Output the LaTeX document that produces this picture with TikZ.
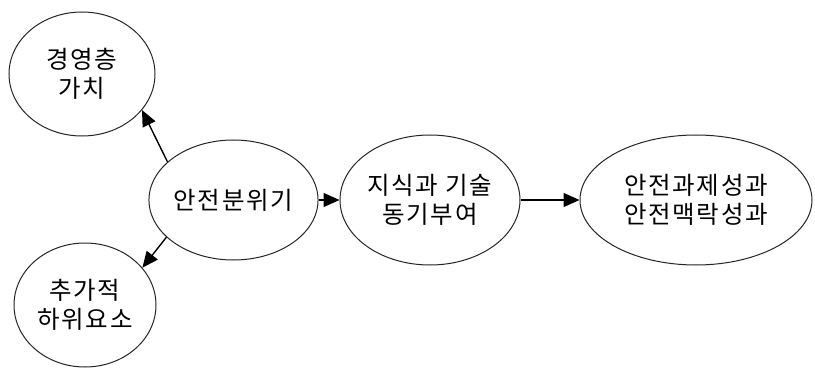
\documentclass[tikz,border=0pt]{standalone}
\usepackage{fontspec}
\newfontfamily\kr[LetterSpace=7]{Noto Sans CJK KR}
\usetikzlibrary{shapes.geometric,arrows.meta}
\begin{document}
\begin{tikzpicture}[x=1pt,y=-1pt,
  oval/.style={ellipse,draw=black!85,line width=1pt,inner sep=0pt,align=center,
    font=\kr\fontsize{24.5}{29}\selectfont},
  arr/.style={line width=1.4pt,-{Triangle[length=16pt,width=14pt]}}]
\useasboundingbox[fill=white] (0,0) rectangle (815,369);
\node[oval,minimum width=146pt,minimum height=124pt] (mgmt) at (82,74) {경영층\\가치};
\node[oval,minimum width=142pt,minimum height=124pt] (sub) at (85,305) {추가적\\하위요소};
\node[oval,minimum width=137pt,minimum height=120pt] (safety) at (233.5,200) {안전분위기};
\node[oval,minimum width=180pt,minimum height=130pt] (know) at (430,200) {지식과 기술\\동기부여};
\node[oval,minimum width=232pt,minimum height=130pt] (result) at (696,200) {안전과제성과\\안전맥락성과};
\draw[arr] (safety.150) -- (mgmt.-31);
\draw[arr] (safety.209) -- (sub.33);
\draw[arr] (safety.east) -- (know.west);
\draw[arr] (know.east) -- (result.west);
\end{tikzpicture}
\end{document}
